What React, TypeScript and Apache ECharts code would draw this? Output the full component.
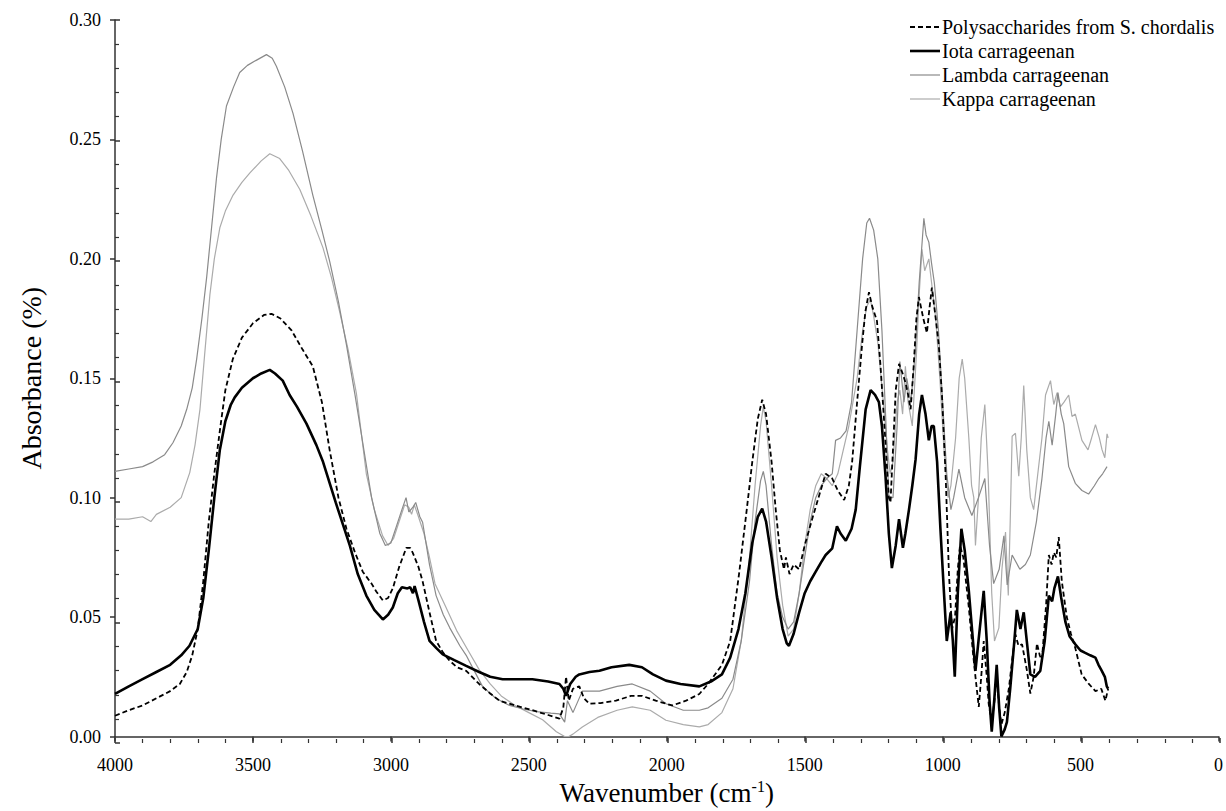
import React, { useEffect, useRef } from "react";
import * as echarts from "echarts";

const SERIES_NAMES = [
  "Polysaccharides from S. chordalis",
  "Iota carrageenan",
  "Lambda carrageenan",
  "Kappa carrageenan",
];

const X_TICKS = [4000, 3500, 3000, 2500, 2000, 1500, 1000, 500, 0];
const Y_TICKS = [0, 0.05, 0.1, 0.15, 0.2, 0.25, 0.3];

// [wavenumber, absorbance]
const chordalis: number[][] = [
  [4000, 0.0087], [3950, 0.011], [3900, 0.013], [3850, 0.016], [3800, 0.019], [3765, 0.022],
  [3740, 0.027], [3720, 0.034], [3700, 0.045], [3680, 0.065], [3660, 0.09], [3640, 0.11],
  [3620, 0.128], [3600, 0.145], [3573, 0.158], [3540, 0.167], [3500, 0.173], [3460, 0.1765],
  [3433, 0.177], [3400, 0.175], [3360, 0.17], [3320, 0.162], [3283, 0.155], [3250, 0.14],
  [3222, 0.12], [3190, 0.1], [3161, 0.087], [3130, 0.077], [3102, 0.069], [3070, 0.064],
  [3053, 0.0607], [3029, 0.057], [3010, 0.058], [2993, 0.062], [2970, 0.071], [2944, 0.079],
  [2930, 0.079], [2921, 0.077], [2900, 0.071], [2885, 0.065], [2860, 0.052], [2836, 0.04],
  [2810, 0.035], [2787, 0.0317], [2760, 0.029], [2727, 0.0275], [2680, 0.022], [2640, 0.018],
  [2606, 0.015], [2550, 0.013], [2487, 0.011], [2430, 0.009], [2389, 0.0075], [2375, 0.012],
  [2365, 0.025], [2355, 0.015], [2340, 0.02], [2317, 0.021], [2300, 0.016], [2281, 0.0137],
  [2240, 0.014], [2184, 0.015], [2130, 0.017], [2089, 0.017], [2040, 0.015], [1980, 0.013],
  [1930, 0.015], [1882, 0.0178], [1850, 0.022], [1800, 0.03], [1770, 0.04], [1738, 0.068],
  [1710, 0.095], [1690, 0.115], [1670, 0.133], [1654, 0.141], [1640, 0.135], [1620, 0.115],
  [1605, 0.095], [1590, 0.078], [1575, 0.07], [1568, 0.075], [1555, 0.068], [1540, 0.072],
  [1520, 0.07], [1500, 0.08], [1473, 0.091], [1450, 0.1], [1424, 0.11], [1400, 0.108],
  [1380, 0.103], [1357, 0.099], [1340, 0.105], [1328, 0.115], [1310, 0.14], [1292, 0.164],
  [1280, 0.178], [1267, 0.186], [1255, 0.18], [1238, 0.174], [1225, 0.155], [1207, 0.123],
  [1195, 0.1], [1189, 0.098], [1180, 0.12], [1170, 0.145], [1158, 0.156], [1145, 0.152],
  [1134, 0.148], [1125, 0.143], [1116, 0.137], [1105, 0.155], [1095, 0.175], [1086, 0.184],
  [1070, 0.175], [1057, 0.169], [1047, 0.18], [1039, 0.188], [1025, 0.175], [1014, 0.164],
  [1002, 0.142], [989, 0.109], [977, 0.068], [966, 0.045], [955, 0.05], [945, 0.07],
  [937, 0.08], [925, 0.075], [905, 0.054], [890, 0.035], [881, 0.025], [869, 0.0124],
  [860, 0.025], [851, 0.04], [840, 0.025], [833, 0.0137], [822, 0.006], [812, 0.015],
  [804, 0.026], [795, 0.012], [787, 0.005], [775, 0.01], [760, 0.02], [745, 0.035],
  [736, 0.0427], [725, 0.038], [712, 0.0386], [695, 0.028], [682, 0.018], [670, 0.025],
  [658, 0.039], [648, 0.034], [640, 0.032], [625, 0.055], [615, 0.076], [605, 0.072],
  [597, 0.077], [588, 0.075], [579, 0.0835], [568, 0.065], [550, 0.05], [535, 0.043],
  [519, 0.037], [496, 0.026], [470, 0.022], [446, 0.019], [425, 0.02], [410, 0.015], [400, 0.02],
];

const iota: number[][] = [
  [4000, 0.0178], [3950, 0.021], [3900, 0.024], [3850, 0.027], [3800, 0.03], [3760, 0.034],
  [3730, 0.038], [3700, 0.045], [3680, 0.058], [3660, 0.078], [3640, 0.1], [3620, 0.12],
  [3600, 0.132], [3580, 0.139], [3566, 0.142], [3540, 0.146], [3500, 0.15], [3470, 0.152],
  [3439, 0.1535], [3420, 0.152], [3392, 0.149], [3367, 0.143], [3340, 0.138], [3306, 0.131],
  [3270, 0.122], [3246, 0.115], [3200, 0.098], [3149, 0.08], [3120, 0.068], [3089, 0.059],
  [3060, 0.053], [3029, 0.049], [3010, 0.051], [2993, 0.054], [2975, 0.06], [2960, 0.0625],
  [2940, 0.062], [2930, 0.0625], [2920, 0.06], [2914, 0.063], [2900, 0.057], [2880, 0.048],
  [2860, 0.04], [2835, 0.037], [2812, 0.0344], [2770, 0.032], [2727, 0.0296], [2680, 0.027],
  [2640, 0.025], [2595, 0.024], [2540, 0.024], [2487, 0.024], [2430, 0.023], [2389, 0.022],
  [2375, 0.02], [2365, 0.017], [2350, 0.022], [2330, 0.025], [2317, 0.026], [2280, 0.027],
  [2244, 0.0275], [2200, 0.029], [2136, 0.03], [2090, 0.029], [2050, 0.026], [2003, 0.0234],
  [1950, 0.022], [1882, 0.021], [1840, 0.023], [1800, 0.026], [1770, 0.033], [1740, 0.045],
  [1715, 0.06], [1690, 0.081], [1670, 0.092], [1654, 0.0954], [1640, 0.09], [1620, 0.075],
  [1600, 0.058], [1580, 0.045], [1565, 0.039], [1557, 0.038], [1540, 0.043], [1520, 0.052],
  [1500, 0.06], [1480, 0.065], [1460, 0.069], [1440, 0.073], [1424, 0.076], [1400, 0.0788],
  [1383, 0.088], [1370, 0.085], [1351, 0.082], [1330, 0.087], [1315, 0.095], [1300, 0.113],
  [1279, 0.137], [1261, 0.145], [1245, 0.143], [1231, 0.14], [1220, 0.13], [1207, 0.109],
  [1195, 0.085], [1184, 0.0705], [1170, 0.08], [1158, 0.091], [1144, 0.079], [1135, 0.085],
  [1122, 0.095], [1110, 0.105], [1098, 0.116], [1085, 0.135], [1075, 0.143], [1062, 0.135],
  [1050, 0.124], [1040, 0.13], [1032, 0.13], [1020, 0.115], [1008, 0.087], [995, 0.06],
  [985, 0.04], [971, 0.052], [963, 0.04], [956, 0.025], [945, 0.06], [932, 0.087],
  [920, 0.078], [905, 0.061], [890, 0.04], [881, 0.0275], [870, 0.04], [851, 0.061],
  [840, 0.04], [830, 0.015], [822, 0.002], [813, 0.015], [804, 0.03], [795, 0.012],
  [787, 0.0], [775, 0.003], [767, 0.006], [755, 0.02], [740, 0.04], [731, 0.053],
  [718, 0.045], [706, 0.052], [695, 0.04], [682, 0.026], [665, 0.025], [646, 0.0275],
  [630, 0.04], [615, 0.059], [603, 0.0566], [595, 0.062], [582, 0.067], [570, 0.058],
  [555, 0.048], [540, 0.042], [519, 0.0386], [500, 0.036], [483, 0.035], [465, 0.034],
  [446, 0.033], [435, 0.03], [423, 0.0275], [412, 0.025], [405, 0.021], [400, 0.02],
];

const lambda: number[][] = [
  [4000, 0.111], [3950, 0.112], [3900, 0.113], [3862, 0.115], [3820, 0.118], [3790, 0.123],
  [3760, 0.13], [3740, 0.137], [3720, 0.146], [3704, 0.158], [3685, 0.175], [3668, 0.192],
  [3650, 0.213], [3632, 0.234], [3615, 0.25], [3596, 0.264], [3570, 0.272], [3548, 0.278],
  [3520, 0.281], [3490, 0.283], [3451, 0.2855], [3430, 0.284], [3415, 0.2806], [3385, 0.272],
  [3355, 0.261], [3320, 0.245], [3283, 0.2267], [3250, 0.212], [3222, 0.199], [3190, 0.182],
  [3161, 0.164], [3130, 0.143], [3102, 0.123], [3070, 0.1], [3040, 0.085], [3020, 0.08],
  [3000, 0.081], [2980, 0.088], [2960, 0.095], [2945, 0.1], [2935, 0.094], [2920, 0.096],
  [2910, 0.098], [2895, 0.092], [2885, 0.0897], [2860, 0.072], [2836, 0.059], [2810, 0.051],
  [2787, 0.0456], [2750, 0.038], [2727, 0.034], [2700, 0.028], [2668, 0.021], [2620, 0.016],
  [2570, 0.013], [2520, 0.0115], [2473, 0.0104], [2420, 0.0098], [2389, 0.0095], [2370, 0.006],
  [2360, 0.015], [2340, 0.01], [2306, 0.019], [2244, 0.019], [2180, 0.021], [2125, 0.022],
  [2060, 0.019], [2003, 0.0137], [1940, 0.011], [1882, 0.011], [1850, 0.012], [1800, 0.016],
  [1760, 0.024], [1730, 0.04], [1700, 0.065], [1680, 0.09], [1660, 0.107], [1650, 0.111],
  [1640, 0.105], [1620, 0.08], [1600, 0.06], [1580, 0.05], [1560, 0.045], [1540, 0.048],
  [1520, 0.06], [1500, 0.075], [1480, 0.09], [1460, 0.1], [1440, 0.105], [1420, 0.108],
  [1400, 0.11], [1388, 0.124], [1370, 0.125], [1350, 0.128], [1330, 0.14], [1310, 0.17],
  [1290, 0.2], [1275, 0.215], [1265, 0.217], [1250, 0.212], [1235, 0.2], [1220, 0.17],
  [1205, 0.13], [1195, 0.1], [1180, 0.1], [1165, 0.13], [1155, 0.157], [1140, 0.14],
  [1130, 0.15], [1115, 0.14], [1100, 0.16], [1085, 0.19], [1068, 0.217], [1060, 0.21],
  [1050, 0.207], [1040, 0.198], [1030, 0.19], [1015, 0.17], [1000, 0.14], [985, 0.11],
  [970, 0.095], [960, 0.1], [941, 0.112], [920, 0.1], [894, 0.0925], [870, 0.1],
  [847, 0.108], [830, 0.08], [815, 0.064], [795, 0.07], [778, 0.084], [766, 0.0635],
  [748, 0.076], [720, 0.07], [700, 0.072], [682, 0.076], [660, 0.09], [640, 0.108],
  [625, 0.125], [615, 0.132], [603, 0.122], [590, 0.135], [582, 0.144], [570, 0.135],
  [561, 0.131], [543, 0.113], [519, 0.106], [495, 0.103], [471, 0.1015], [450, 0.105],
  [434, 0.108], [420, 0.11], [404, 0.113],
];

const kappa: number[][] = [
  [4000, 0.091], [3950, 0.091], [3900, 0.092], [3870, 0.09], [3850, 0.093], [3800, 0.096],
  [3760, 0.1], [3729, 0.1105], [3710, 0.122], [3692, 0.137], [3675, 0.16], [3656, 0.185],
  [3640, 0.2], [3620, 0.213], [3600, 0.22], [3572, 0.2267], [3540, 0.232], [3511, 0.236],
  [3470, 0.241], [3439, 0.244], [3403, 0.242], [3370, 0.237], [3330, 0.229], [3290, 0.218],
  [3246, 0.2046], [3215, 0.192], [3186, 0.178], [3155, 0.162], [3125, 0.1437], [3089, 0.11],
  [3060, 0.095], [3030, 0.084], [3010, 0.08], [2990, 0.083], [2970, 0.09], [2950, 0.097],
  [2935, 0.096], [2925, 0.093], [2915, 0.097], [2900, 0.092], [2880, 0.085], [2860, 0.075],
  [2840, 0.064], [2800, 0.054], [2760, 0.044], [2720, 0.036], [2680, 0.028], [2640, 0.022],
  [2600, 0.017], [2550, 0.013], [2500, 0.01], [2450, 0.007], [2400, 0.002], [2370, 0.0],
  [2355, 0.0], [2340, 0.001], [2306, 0.004], [2250, 0.008], [2180, 0.011], [2125, 0.0124],
  [2060, 0.011], [2003, 0.0068], [1940, 0.005], [1882, 0.004], [1850, 0.005], [1800, 0.01],
  [1760, 0.02], [1730, 0.04], [1700, 0.075], [1680, 0.105], [1660, 0.13], [1650, 0.138],
  [1640, 0.132], [1620, 0.105], [1600, 0.075], [1580, 0.055], [1560, 0.042], [1540, 0.045],
  [1520, 0.06], [1500, 0.08], [1480, 0.095], [1460, 0.105], [1440, 0.11], [1420, 0.108],
  [1400, 0.105], [1380, 0.11], [1360, 0.12], [1340, 0.13], [1310, 0.15], [1290, 0.17],
  [1275, 0.18], [1262, 0.183], [1250, 0.176], [1235, 0.165], [1215, 0.14], [1200, 0.12],
  [1190, 0.11], [1180, 0.115], [1165, 0.14], [1155, 0.145], [1145, 0.135], [1135, 0.155],
  [1125, 0.14], [1110, 0.13], [1095, 0.16], [1085, 0.185], [1075, 0.204], [1065, 0.195],
  [1050, 0.2], [1040, 0.19], [1025, 0.175], [1010, 0.15], [995, 0.12], [980, 0.1],
  [970, 0.105], [953, 0.125], [940, 0.15], [929, 0.158], [920, 0.15], [905, 0.125],
  [895, 0.105], [887, 0.1], [881, 0.08], [870, 0.1], [860, 0.125], [847, 0.139],
  [835, 0.11], [822, 0.06], [812, 0.04], [796, 0.0455], [785, 0.07], [772, 0.0856],
  [762, 0.059], [755, 0.09], [748, 0.1257], [736, 0.127], [724, 0.109], [715, 0.125],
  [706, 0.147], [695, 0.12], [682, 0.1], [670, 0.095], [655, 0.11], [640, 0.125],
  [627, 0.143], [609, 0.149], [597, 0.139], [585, 0.144], [573, 0.138], [560, 0.14],
  [543, 0.143], [531, 0.134], [519, 0.135], [495, 0.124], [473, 0.12], [460, 0.125],
  [446, 0.1306], [432, 0.125], [422, 0.12], [412, 0.1167], [404, 0.1267], [400, 0.125],
];

const FONT = "Liberation Serif, serif";
const SERIES_COLORS = ["#000000", "#000000", "#8a8a8a", "#ababab"];
const SERIES_WIDTHS = [1.8, 2.6, 1.2, 1.2];
const SERIES_DASH: any[] = [[5, 3], "solid", "solid", "solid"];

export default function App() {
  const ref = useRef<HTMLDivElement>(null);

  useEffect(() => {
    if (!ref.current) return;
    const chart = echarts.init(ref.current, undefined, { renderer: "svg" });
    const axisColor = "#333";
    const GRID = { left: 115, right: 6, top: 20, bottom: 68 };
    const xCommon = {
      type: "value" as const,
      min: X_TICKS[X_TICKS.length - 1],
      max: X_TICKS[0],
      interval: 500,
      inverse: true,
      splitLine: { show: false },
    };
    const yCommon = {
      type: "value" as const,
      min: Y_TICKS[0],
      max: Y_TICKS[Y_TICKS.length - 1],
      interval: 0.05,
      splitLine: { show: false },
    };

    const legendGraphics: any[] = [];
    SERIES_NAMES.forEach((name, i) => {
      const cy = 27 + i * 24;
      legendGraphics.push({
        type: "line",
        shape: { x1: 910, y1: cy, x2: 940, y2: cy },
        style: {
          stroke: SERIES_COLORS[i],
          lineWidth: SERIES_WIDTHS[i],
          lineDash: Array.isArray(SERIES_DASH[i]) ? SERIES_DASH[i] : null,
        },
        silent: true,
      });
      legendGraphics.push({
        type: "text",
        x: 942,
        y: cy,
        style: {
          text: name,
          fontFamily: FONT,
          fontSize: 20,
          fill: "#000",
          verticalAlign: "middle",
          align: "left",
        },
        silent: true,
      });
    });

    const option: any = {
      animation: false,
      backgroundColor: "#fff",
      textStyle: { fontFamily: FONT, color: "#000" },
      grid: [
        { ...GRID, containLabel: false },
        { ...GRID, containLabel: false },
      ],
      graphic: legendGraphics,
      xAxis: [
        {
          ...xCommon,
          gridIndex: 0,
          position: "bottom",
          name: "Wavenumber (cm{sup|-1})",
          nameLocation: "middle",
          nameGap: 42,
          nameTextStyle: {
            fontFamily: FONT,
            fontSize: 27,
            color: "#000",
            rich: { sup: { fontFamily: FONT, fontSize: 16, color: "#000", verticalAlign: "top", padding: [0, 0, 12, 0] } },
          },
          axisLine: { show: true, onZero: false, lineStyle: { color: axisColor, width: 1.5 } },
          axisTick: { show: true, inside: false, length: 5, lineStyle: { color: axisColor, width: 1.5 } },
          minorTick: { show: false },
          axisLabel: {
            fontFamily: FONT,
            fontSize: 18,
            color: "#000",
            margin: 19,
            formatter: (v: number) => String(v),
          },
        },
        {
          ...xCommon,
          gridIndex: 1,
          position: "bottom",
          axisLine: { show: false, onZero: false },
          axisTick: { show: true, inside: true, length: 5, lineStyle: { color: axisColor, width: 1.5 } },
          minorTick: { show: true, splitNumber: 5, length: 4, lineStyle: { color: axisColor, width: 1.2 } },
          axisLabel: { show: false },
        },
      ],
      yAxis: [
        {
          ...yCommon,
          gridIndex: 0,
          position: "left",
          name: "Absorbance (%)",
          nameLocation: "middle",
          nameGap: 70,
          nameRotate: 90,
          nameTextStyle: { fontFamily: FONT, fontSize: 28, color: "#000" },
          axisLine: { show: true, onZero: false, lineStyle: { color: axisColor, width: 1.5 } },
          axisTick: { show: true, inside: false, length: 5, lineStyle: { color: axisColor, width: 1.5 } },
          minorTick: { show: false },
          axisLabel: {
            fontFamily: FONT,
            fontSize: 18,
            color: "#000",
            margin: 14,
            formatter: (v: number) => v.toFixed(2),
          },
        },
        {
          ...yCommon,
          gridIndex: 1,
          position: "left",
          axisLine: { show: false, onZero: false },
          axisTick: { show: true, inside: true, length: 5, lineStyle: { color: axisColor, width: 1.5 } },
          minorTick: { show: true, splitNumber: 5, length: 4, lineStyle: { color: axisColor, width: 1.2 } },
          axisLabel: { show: false },
        },
      ],
      series: [chordalis, iota, lambda, kappa].map((data, i) => ({
        name: SERIES_NAMES[i],
        type: "line",
        xAxisIndex: 0,
        yAxisIndex: 0,
        data,
        symbol: "none",
        showSymbol: false,
        color: SERIES_COLORS[i],
        lineStyle: { color: SERIES_COLORS[i], width: SERIES_WIDTHS[i], type: SERIES_DASH[i] },
        z: [4, 5, 3, 2][i],
      })),
    };
    chart.setOption(option);
    return () => chart.dispose();
  }, []);

  return (
    <div
      ref={ref}
      style={{ position: "fixed", left: 0, top: 0, width: 1226, height: 811, background: "#fff" }}
    />
  );
}
